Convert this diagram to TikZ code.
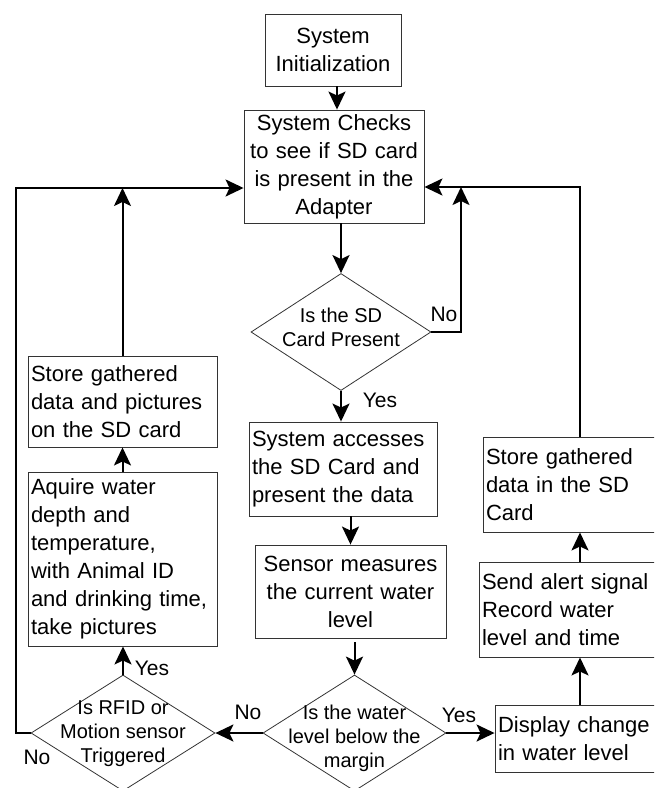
\documentclass[tikz,border=0pt]{standalone}
\usepackage{fontspec}
\setmainfont{Liberation Sans}
\usetikzlibrary{shapes.geometric,arrows.meta}

\begin{document}
\begin{tikzpicture}[x=1pt, y=-1pt,
  box/.style={draw=black!80, line width=0.9pt, rectangle, inner xsep=3pt, inner ysep=0pt, font=\fontsize{22}{28}\selectfont},
  decision/.style={draw=black!80, line width=0.8pt, diamond, inner sep=0pt},
  qtext/.style={align=center, inner sep=0pt, font=\fontsize{20}{24}\selectfont},
  tag/.style={inner sep=0pt, font=\fontsize{21}{24}\selectfont},
  flow/.style={line width=2pt, -{Stealth[length=18pt,width=17pt,inset=4pt]}}]
  \useasboundingbox (0,0) rectangle (654,788);
  \clip (0,0) rectangle (654,788);

  \node (init) [box, align=center, text width=130, minimum height=72] at (333,50) {System\\Initialization};
  \node (check) [box, align=center, text width=174, minimum height=113] at (334,166.5) {System Checks\\to see if SD card\\is present in the\\Adapter};
  \node (sdq) [decision, minimum width=180, minimum height=117] at (341,332) {};
  \node (sdqtext) [qtext] at ([yshift=5pt]sdq.center) {Is the SD\\Card Present};
  \node (access) [box, align=left, text width=182, minimum height=94] at (343,469) {System accesses\\the SD Card and\\present the data};
  \node (sensor) [box, align=center, text width=185, minimum height=93] at (350.5,591.5) {Sensor measures\\the current water\\level};
  \node (levelq) [decision, minimum width=183, minimum height=116] at (354.5,733) {};
  \node (levelqtext) [qtext] at ([yshift=-5pt]levelq.center) {Is the water\\level below the\\margin};
  \node (rfidq) [decision, minimum width=184, minimum height=116] at (123,733) {};
  \node (rfidqtext) [qtext] at ([yshift=-1pt]rfidq.center) {Is RFID or\\Motion sensor\\Triggered};
  \node (acquire) [box, align=left, text width=183, minimum height=174] at (122.5,559) {Aquire water\\depth and\\temperature,\\with Animal ID\\and drinking time,\\take pictures};
  \node (storesd) [box, align=left, text width=183, minimum height=91] at (122.5,401.5) {Store gathered\\data and pictures\\on the SD card};
  \node (display) [box, align=left, text width=164, minimum height=67] at (580,738.5) {Display change\\in water level};
  \node (alert) [box, align=left, text width=196, minimum height=95] at (580,609.5) {Send alert signal\\Record water\\level and time};
  \node (storelog) [box, align=left, text width=188, minimum height=95] at (580,484.5) {Store gathered\\data in the SD\\Card};

  % answers
  \node (sdqno) [tag] at (444,314) {No};
  \node (sdqyes) [tag] at (380,400) {Yes};
  \node (levelqno) [tag] at (248,712) {No};
  \node (levelqyes) [tag] at (459,715) {Yes};
  \node (rfidqyes) [tag] at (152,668) {Yes};
  \node (rfidqno) [tag] at (37,757) {No};

  \coordinate (ltop) at (16,188);
  \coordinate (rtop) at (578,187);
  \coordinate (rmid) at (461,187);

  \draw [flow] (init.south -| 337,0) -- (check.north -| 337,0);
  \draw [flow] (check.south -| sdq.north) -- (sdq.north);
  \draw [flow] (sdq.south) -- (sdq.south |- access.north);
  \draw [flow] (sensor.north |- access.south) -- (sensor.north);
  \draw [flow] ([yshift=-4pt]levelq.north |- sensor.south) -- (levelq.north);
  \draw [flow] (levelq.west) -- (rfidq.east);
  \draw [flow] (levelq.east) -- (levelq.east -| display.west);
  \draw [flow] (display.north) -- (alert.south);
  \draw [flow] (alert.north) -- (storelog.south);
  \draw [flow] (storelog.north) |- (check.east |- rtop);
  \draw [flow] (sdq.east) -| (rmid);
  \draw [flow] (rfidq.north) -- (rfidq.north |- acquire.south);
  \draw [flow] (acquire.north) -- (storesd.south);
  \draw [flow] (storesd.north) -- (storesd.north |- ltop);
  \draw [flow] (rfidq.west) -| (ltop) -- (check.west |- ltop);
\end{tikzpicture}
\end{document}
